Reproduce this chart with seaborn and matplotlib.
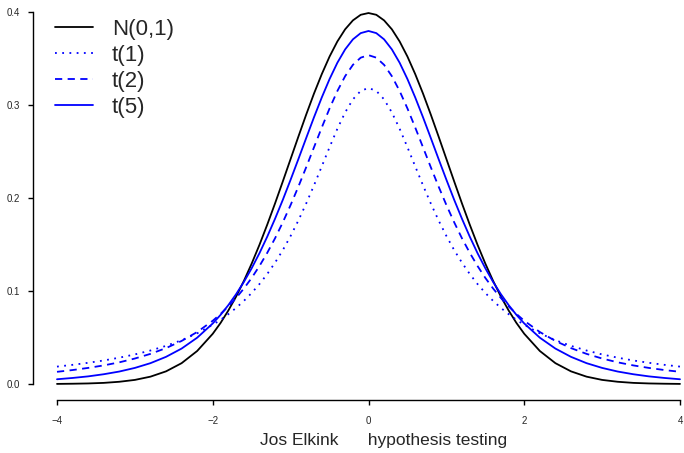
import matplotlib
matplotlib.use("Agg")
import matplotlib.pyplot as plt
import seaborn as sns
import pandas as pd

x = [-4.0, -3.8, -3.6, -3.4, -3.2, -3.0, -2.8, -2.6, -2.4, -2.2,
     -2.0, -1.9, -1.8, -1.7, -1.6, -1.5, -1.4, -1.3, -1.2, -1.1, -1.0, -0.9, -0.8, -0.7, -0.6,
     -0.5, -0.4, -0.3, -0.2, -0.1, 0.0, 0.1, 0.2, 0.3, 0.4, 0.5, 0.6, 0.7, 0.8, 0.9, 1.0,
     1.1, 1.2, 1.3, 1.4, 1.5, 1.6, 1.7, 1.8, 1.9, 2.0,
     2.2, 2.4, 2.6, 2.8, 3.0, 3.2, 3.4, 3.6, 3.8, 4.0]

normal = [0.0001, 0.0003, 0.0006, 0.0012, 0.0024, 0.0044, 0.0079, 0.0136, 0.0224, 0.0355,
          0.0540, 0.0656, 0.0790, 0.0940, 0.1109, 0.1295, 0.1497, 0.1714, 0.1942, 0.2179, 0.2420,
          0.2661, 0.2897, 0.3123, 0.3332, 0.3521, 0.3683, 0.3814, 0.3910, 0.3970, 0.3989, 0.3970,
          0.3910, 0.3814, 0.3683, 0.3521, 0.3332, 0.3123, 0.2897, 0.2661, 0.2420, 0.2179, 0.1942,
          0.1714, 0.1497, 0.1295, 0.1109, 0.0940, 0.0790, 0.0656, 0.0540,
          0.0355, 0.0224, 0.0136, 0.0079, 0.0044, 0.0024, 0.0012, 0.0006, 0.0003, 0.0001]

t1 = [0.0187, 0.0206, 0.0228, 0.0253, 0.0283, 0.0318, 0.0360, 0.0410, 0.0471, 0.0545,
      0.0637, 0.0690, 0.0751, 0.0818, 0.0894, 0.0979, 0.1075, 0.1183, 0.1305, 0.1440, 0.1592,
      0.1759, 0.1941, 0.2136, 0.2340, 0.2546, 0.2744, 0.2920, 0.3061, 0.3152, 0.3183, 0.3152,
      0.3061, 0.2920, 0.2744, 0.2546, 0.2340, 0.2136, 0.1941, 0.1759, 0.1592, 0.1440, 0.1305,
      0.1183, 0.1075, 0.0979, 0.0894, 0.0818, 0.0751, 0.0690, 0.0637,
      0.0545, 0.0471, 0.0410, 0.0360, 0.0318, 0.0283, 0.0253, 0.0228, 0.0206, 0.0187]

t2 = [0.0131, 0.0150, 0.0173, 0.0200, 0.0233, 0.0274, 0.0324, 0.0386, 0.0463, 0.0559,
      0.0680, 0.0753, 0.0834, 0.0925, 0.1027, 0.1141, 0.1269, 0.1411, 0.1567, 0.1739, 0.1925,
      0.2123, 0.2331, 0.2545, 0.2758, 0.2963, 0.3150, 0.3310, 0.3432, 0.3509, 0.3536, 0.3509,
      0.3432, 0.3310, 0.3150, 0.2963, 0.2758, 0.2545, 0.2331, 0.2123, 0.1925, 0.1739, 0.1567,
      0.1411, 0.1269, 0.1141, 0.1027, 0.0925, 0.0834, 0.0753, 0.0680,
      0.0559, 0.0463, 0.0386, 0.0324, 0.0274, 0.0233, 0.0200, 0.0173, 0.0150, 0.0131]

t5 = [0.0051, 0.0065, 0.0082, 0.0105, 0.0134, 0.0173, 0.0224, 0.0292, 0.0381, 0.0498,
      0.0651, 0.0743, 0.0848, 0.0966, 0.1098, 0.1245, 0.1407, 0.1585, 0.1777, 0.1981, 0.2197,
      0.2419, 0.2645, 0.2868, 0.3081, 0.3279, 0.3454, 0.3598, 0.3706, 0.3773, 0.3796, 0.3773,
      0.3706, 0.3598, 0.3454, 0.3279, 0.3081, 0.2868, 0.2645, 0.2419, 0.2197, 0.1981, 0.1777,
      0.1585, 0.1407, 0.1245, 0.1098, 0.0966, 0.0848, 0.0743, 0.0651,
      0.0498, 0.0381, 0.0292, 0.0224, 0.0173, 0.0134, 0.0105, 0.0082, 0.0065, 0.0051]

labels = ["N(0,1)", "t(1)", "t(2)", "t(5)"]
x_ticks = [-4, -2, 0, 2, 4]
x_ticklabels = ["\u22124", "\u22122", "0", "2", "4"]
y_ticks = [0.0, 0.1, 0.2, 0.3, 0.4]
y_ticklabels = ["0.0", "0.1", "0.2", "0.3", "0.4"]
xlabel = "Jos Elkink      hypothesis testing"

sns.set_style("white")
plt.rcParams["font.family"] = ["Liberation Sans", "DejaVu Sans"]
plt.rcParams["lines.solid_joinstyle"] = "round"

W, H = 684, 453
dpi = 100
fig = plt.figure(figsize=(W / dpi, H / dpi), dpi=dpi)
left_px, right_px = 57, 680
top_px, bot_px = 12, 384
ax = fig.add_axes([left_px / W, (H - bot_px) / H, (right_px - left_px) / W, (bot_px - top_px) / H])

styles = [
    ("black", "-"),
    ("#0000FF", (0, (1, 3))),
    ("#0000FF", (0, (4, 3))),
    ("#0000FF", "-"),
]
for ys, lab, (c, ls) in zip([normal, t1, t2, t5], labels, styles):
    df = pd.DataFrame({"x": x, "y": ys})
    sns.lineplot(data=df, x="x", y="y", ax=ax, color=c, linestyle=ls, linewidth=1.3, label=lab,
                 clip_on=False)

ax.set_xlim(-4, 4)
ax.set_ylim(0, 0.4)
ax.set_xticks(x_ticks)
ax.set_xticklabels(x_ticklabels, fontsize=7)
ax.set_yticks(y_ticks)
ax.set_yticklabels(y_ticklabels, fontsize=7, rotation=90, va="center")
ax.set_xlabel(xlabel, fontsize=12.5)
ax.xaxis.set_label_coords((384 - left_px) / (right_px - left_px), -(433 - bot_px) / (bot_px - top_px))
ax.set_ylabel("")

for s in ["top", "right"]:
    ax.spines[s].set_visible(False)
pt = 72 / dpi
ax.spines["left"].set_position(("outward", 24 * pt))
ax.spines["bottom"].set_position(("outward", 16 * pt))
ax.spines["left"].set_bounds(0, 0.4)
ax.spines["bottom"].set_bounds(-4, 4)
for s in ["left", "bottom"]:
    ax.spines[s].set_color("black")
    ax.spines[s].set_linewidth(1.0)
ax.tick_params(axis="both", which="major", direction="out", length=5 * pt,
               width=1.0, color="black", bottom=True, left=True, labelsize=7)
ax.tick_params(axis="x", pad=8)
ax.tick_params(axis="y", pad=6)

leg = ax.legend(loc="upper left", bbox_to_anchor=(44 / W, 1 - 8 / H), bbox_transform=fig.transFigure,
                frameon=False, fontsize=16, handlelength=1.7, handletextpad=0.86, labelspacing=0.22,
                borderpad=0)
for line in leg.get_lines():
    line.set_linewidth(1.3)

fig.savefig("out.png", dpi=dpi)
